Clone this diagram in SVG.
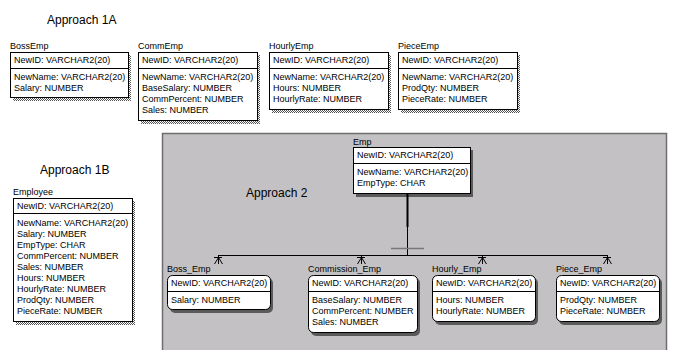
<svg xmlns="http://www.w3.org/2000/svg" width="686" height="350" viewBox="0 0 686 350">
<defs>
<pattern id="dith" width="2" height="2" patternUnits="userSpaceOnUse"><rect width="2" height="2" fill="#ffffff"/><rect width="1" height="1" fill="#555"/><rect x="1" y="1" width="1" height="1" fill="#555"/></pattern>
</defs>
<style>
.t{font-family:"Liberation Sans",Arial,sans-serif;font-size:9px;fill:#000}
.h{font-family:"Liberation Sans",Arial,sans-serif;font-size:12px;fill:#000}
.box{fill:#fff;stroke:#000;stroke-width:1}
.sh{fill:url(#dith)}
.sh2{fill:#5a5a5a}
.dv{stroke:#000;stroke-width:1}
.ln{stroke:#000;stroke-width:1;fill:none}
</style>
<rect width="686" height="350" fill="#fff"/>
<rect x="162.5" y="133.5" width="504" height="220" fill="#c3c1c4" stroke="#6e6e6e" stroke-width="1.5"/>
<text class="h" x="47" y="24">Approach 1A</text>
<text class="h" x="40" y="174">Approach 1B</text>
<text class="h" x="246" y="197">Approach 2</text>

<g id="BossEmp">
<text class="t" x="10" y="49">BossEmp</text>
<rect class="sh" x="13" y="55" width="118" height="46"/>
<rect class="box" x="10.5" y="52.5" width="118" height="45"/>
<line class="dv" x1="10.5" y1="68.5" x2="128.5" y2="68.5"/>
<text class="t" x="14" y="63">NewID: VARCHAR2(20)</text>
<text class="t" x="14" y="80">NewName: VARCHAR2(20)</text>
<text class="t" x="14" y="91">Salary: NUMBER</text>
</g>

<g id="CommEmp">
<text class="t" x="138" y="49">CommEmp</text>
<rect class="sh" x="141" y="55" width="119" height="69"/>
<rect class="box" x="138.5" y="52.5" width="119" height="68"/>
<line class="dv" x1="138.5" y1="68.5" x2="257.5" y2="68.5"/>
<text class="t" x="142" y="63">NewID: VARCHAR2(20)</text>
<text class="t" x="142" y="80">NewName: VARCHAR2(20)</text>
<text class="t" x="142" y="91">BaseSalary: NUMBER</text>
<text class="t" x="142" y="102">CommPercent: NUMBER</text>
<text class="t" x="142" y="113">Sales: NUMBER</text>
</g>

<g id="HourlyEmp">
<text class="t" x="269" y="49">HourlyEmp</text>
<rect class="sh" x="272" y="55" width="119" height="58"/>
<rect class="box" x="269.5" y="52.5" width="119" height="57"/>
<line class="dv" x1="269.5" y1="68.5" x2="388.5" y2="68.5"/>
<text class="t" x="273" y="63">NewID: VARCHAR2(20)</text>
<text class="t" x="273" y="80">NewName: VARCHAR2(20)</text>
<text class="t" x="273" y="91">Hours: NUMBER</text>
<text class="t" x="273" y="102">HourlyRate: NUMBER</text>
</g>

<g id="PieceEmp">
<text class="t" x="398" y="49">PieceEmp</text>
<rect class="sh" x="401" y="55" width="119" height="58"/>
<rect class="box" x="398.5" y="52.5" width="119" height="57"/>
<line class="dv" x1="398.5" y1="68.5" x2="517.5" y2="68.5"/>
<text class="t" x="402" y="63">NewID: VARCHAR2(20)</text>
<text class="t" x="402" y="80">NewName: VARCHAR2(20)</text>
<text class="t" x="402" y="91">ProdQty: NUMBER</text>
<text class="t" x="402" y="102">PieceRate: NUMBER</text>
</g>

<g id="Employee">
<text class="t" x="13" y="195">Employee</text>
<rect class="sh" x="16" y="201" width="119" height="124"/>
<rect class="box" x="13.5" y="198.5" width="119" height="123"/>
<line class="dv" x1="13.5" y1="213.5" x2="132.5" y2="213.5"/>
<text class="t" x="17" y="209">NewID: VARCHAR2(20)</text>
<text class="t" x="17" y="226">NewName: VARCHAR2(20)</text>
<text class="t" x="17" y="237">Salary: NUMBER</text>
<text class="t" x="17" y="248">EmpType: CHAR</text>
<text class="t" x="17" y="259">CommPercent: NUMBER</text>
<text class="t" x="17" y="270">Sales: NUMBER</text>
<text class="t" x="17" y="281">Hours: NUMBER</text>
<text class="t" x="17" y="292">HourlyRate: NUMBER</text>
<text class="t" x="17" y="303">ProdQty: NUMBER</text>
<text class="t" x="17" y="314">PieceRate: NUMBER</text>
</g>

<g id="Emp">
<text class="t" x="353" y="145">Emp</text>
<rect class="sh2" x="356" y="150" width="117" height="47"/>
<rect class="box" x="353.5" y="147.5" width="117" height="46"/>
<line class="dv" x1="353.5" y1="163.5" x2="470.5" y2="163.5"/>
<text class="t" x="357" y="158">NewID: VARCHAR2(20)</text>
<text class="t" x="357" y="175">NewName: VARCHAR2(20)</text>
<text class="t" x="357" y="186">EmpType: CHAR</text>
</g>

<g id="Boss_Emp">
<text class="t" x="167" y="272">Boss_Emp</text>
<rect class="sh2" x="170" y="278" width="103" height="35" rx="5"/>
<rect class="box" x="167.5" y="275.5" width="103" height="34" rx="5"/>
<line class="dv" x1="167.5" y1="291.5" x2="270.5" y2="291.5"/>
<text class="t" x="171" y="286">NewID: VARCHAR2(20)</text>
<text class="t" x="171" y="303">Salary: NUMBER</text>
</g>

<g id="Commission_Emp">
<text class="t" x="308" y="272">Commission_Emp</text>
<rect class="sh2" x="311" y="278" width="109" height="58" rx="5"/>
<rect class="box" x="308.5" y="275.5" width="109" height="57" rx="5"/>
<line class="dv" x1="308.5" y1="291.5" x2="417.5" y2="291.5"/>
<text class="t" x="312" y="286">NewID: VARCHAR2(20)</text>
<text class="t" x="312" y="303">BaseSalary: NUMBER</text>
<text class="t" x="312" y="314">CommPercent: NUMBER</text>
<text class="t" x="312" y="325">Sales: NUMBER</text>
</g>

<g id="Hourly_Emp">
<text class="t" x="432" y="272">Hourly_Emp</text>
<rect class="sh2" x="435" y="278" width="103" height="47" rx="5"/>
<rect class="box" x="432.5" y="275.5" width="103" height="46" rx="5"/>
<line class="dv" x1="432.5" y1="291.5" x2="535.5" y2="291.5"/>
<text class="t" x="436" y="286">NewID: VARCHAR2(20)</text>
<text class="t" x="436" y="303">Hours: NUMBER</text>
<text class="t" x="436" y="314">HourlyRate: NUMBER</text>
</g>

<g id="Piece_Emp">
<text class="t" x="556" y="272">Piece_Emp</text>
<rect class="sh2" x="559" y="278" width="103" height="47" rx="5"/>
<rect class="box" x="556.5" y="275.5" width="103" height="46" rx="5"/>
<line class="dv" x1="556.5" y1="291.5" x2="659.5" y2="291.5"/>
<text class="t" x="560" y="286">NewID: VARCHAR2(20)</text>
<text class="t" x="560" y="303">ProdQty: NUMBER</text>
<text class="t" x="560" y="314">PieceRate: NUMBER</text>
</g>

<g id="connectors">
<line x1="407.5" y1="194" x2="407.5" y2="227" stroke="#000" stroke-width="2"/>
<line class="ln" x1="407.5" y1="194" x2="407.5" y2="255.5"/>
<line x1="391" y1="248.5" x2="424" y2="248.5" stroke="#777" stroke-width="1.5"/>
<line class="ln" x1="218" y1="255.5" x2="607" y2="255.5"/>
<path class="ln" d="M214,257.5H222M218.5,255V264M218.5,257.5L214.5,264M218.5,257.5L222.5,264"/>
<path class="ln" d="M357,257.5H365M361.5,255V264M361.5,257.5L357.5,264M361.5,257.5L365.5,264"/>
<path class="ln" d="M478,257.5H486M482.5,255V264M482.5,257.5L478.5,264M482.5,257.5L486.5,264"/>
<path class="ln" d="M603,257.5H611M607.5,255V264M607.5,257.5L603.5,264M607.5,257.5L611.5,264"/>
</g>
</svg>
